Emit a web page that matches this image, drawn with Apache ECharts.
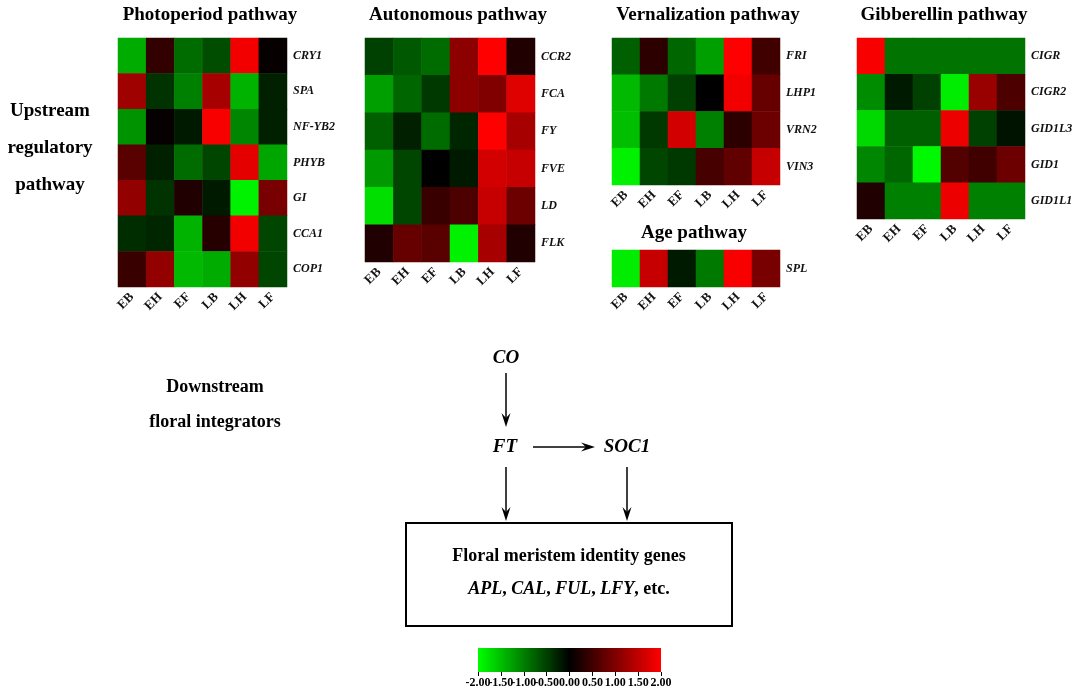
<!DOCTYPE html>
<html>
<head>
<meta charset="utf-8">
<script src="https://cdn.jsdelivr.net/npm/echarts@6/dist/echarts.min.js"></script>
<style>
  html, body { margin: 0; padding: 0; background: #fff; }
  #main { width: 1084px; height: 698px; }
</style>
</head>
<body>
<div id="main"></div>
<script>
// 发育阶段
const stages = ['EB', 'EH', 'EF', 'LB', 'LH', 'LF'];

// Photoperiod pathway
const photoGenes = ['CRY1', 'SPA', 'NF-YB2', 'PHYB', 'GI', 'CCA1', 'COP1'];
const photoValues = [
    [-1.35, 0.40, -0.85, -0.60, 1.90, 0.05],
    [1.25, -0.40, -1.00, 1.30, -1.40, -0.25],
    [-1.15, 0.05, -0.20, 1.95, -1.05, -0.25],
    [0.70, -0.25, -0.85, -0.55, 1.80, -1.30],
    [1.15, -0.40, 0.25, -0.20, -1.90, 0.95],
    [-0.35, -0.30, -1.40, 0.30, 1.90, -0.55],
    [0.45, 1.15, -1.45, -1.35, 1.15, -0.55]
];

// Autonomous pathway
const autoGenes = ['CCR2', 'FCA', 'FY', 'FVE', 'LD', 'FLK'];
const autoValues = [
    [-0.50, -0.70, -0.85, 1.10, 2.00, 0.25],
    [-1.25, -0.80, -0.45, 1.10, 1.00, 1.75],
    [-0.75, -0.25, -0.85, -0.30, 2.00, 1.30],
    [-1.20, -0.55, 0.00, -0.20, 1.65, 1.55],
    [-1.75, -0.55, 0.45, 0.60, 1.55, 0.85],
    [0.25, 0.80, 0.70, -1.90, 1.30, 0.25]
];

// Vernalization pathway
const vernGenes = ['FRI', 'LHP1', 'VRN2', 'VIN3'];
const vernValues = [
    [-0.75, 0.35, -0.80, -1.25, 2.00, 0.50],
    [-1.45, -0.95, -0.50, 0.00, 1.90, 0.80],
    [-1.50, -0.45, 1.65, -1.00, 0.35, 0.85],
    [-1.90, -0.55, -0.45, 0.55, 0.75, 1.55]
];

// Age pathway
const ageGenes = ['SPL'];
const ageValues = [
    [-1.85, 1.55, -0.20, -0.95, 1.95, 0.95]
];

// Gibberellin pathway
const gibGenes = ['CIGR', 'CIGR2', 'GID1L3', 'GID1', 'GID1L1'];
const gibValues = [
    [1.95, -0.90, -0.90, -0.90, -0.90, -0.90],
    [-1.10, -0.20, -0.50, -1.85, 1.20, 0.60],
    [-1.70, -0.75, -0.75, 1.85, -0.50, -0.15],
    [-1.05, -0.80, -1.95, 0.65, 0.50, 0.85],
    [0.25, -1.00, -1.00, 1.85, -1.00, -1.00]
];

// 色标范围和刻度标签
const scaleMin = -2;
const scaleMax = 2;
const scaleTicks = ['-2.00', '-1.50', '-1.00', '-0.50', '0.00', '0.50', '1.00', '1.50', '2.00'];

const serif = "'Liberation Serif', 'Times New Roman', serif";

// 每个热图的位置
const panels = [
    {name: 'Photoperiod pathway', genes: photoGenes, values: photoValues, left: 118, top: 38, width: 169, height: 249},
    {name: 'Autonomous pathway', genes: autoGenes, values: autoValues, left: 365, top: 38, width: 170, height: 224},
    {name: 'Vernalization pathway', genes: vernGenes, values: vernValues, left: 612, top: 38, width: 168, height: 147},
    {name: 'Age pathway', genes: ageGenes, values: ageValues, left: 612, top: 250, width: 168, height: 37},
    {name: 'Gibberellin pathway', genes: gibGenes, values: gibValues, left: 857, top: 38, width: 168, height: 181}
];

let grids = [];
let xAxes = [];
let yAxes = [];
let series = [];
for (let i = 0; i < panels.length; i++) {
    let p = panels[i];
    grids.push({left: p.left, top: p.top, width: p.width, height: p.height, containLabel: false});
    xAxes.push({
        type: 'category',
        gridIndex: i,
        data: stages,
        axisLine: {show: false},
        axisTick: {show: false},
        splitArea: {show: false},
        axisLabel: {
            rotate: 45,
            margin: 8,
            fontFamily: serif,
            fontWeight: 'bold',
            fontSize: 13,
            color: '#111'
        }
    });
    yAxes.push({
        type: 'category',
        gridIndex: i,
        data: p.genes,
        inverse: true,
        position: 'right',
        axisLine: {show: false},
        axisTick: {show: false},
        axisLabel: {
            margin: 6,
            fontFamily: serif,
            fontWeight: 'bold',
            fontStyle: 'italic',
            fontSize: 12,
            color: '#111'
        }
    });
    let data = [];
    for (let r = 0; r < p.values.length; r++) {
        for (let c = 0; c < p.values[r].length; c++) {
            data.push([c, r, p.values[r][c]]);
        }
    }
    series.push({
        name: p.name,
        type: 'heatmap',
        xAxisIndex: i,
        yAxisIndex: i,
        data: data,
        itemStyle: {borderWidth: 0},
        emphasis: {disabled: true}
    });
}

// 色标用的坐标轴
const cb = {left: 478, top: 648, width: 183, height: 24};
grids.push({left: cb.left, top: cb.top, width: cb.width, height: cb.height});
xAxes.push({
    type: 'category',
    gridIndex: panels.length,
    data: scaleTicks,
    boundaryGap: false,
    splitLine: {show: false},
    axisLine: {show: false},
    axisTick: {show: true, interval: 0, length: 4, lineStyle: {color: '#000'}},
    axisLabel: {
        interval: 0,
        margin: 5,
        fontFamily: serif,
        fontWeight: 'bold',
        fontSize: 12,
        color: '#000'
    }
});
yAxes.push({type: 'value', gridIndex: panels.length, show: false, min: 0, max: 1});

// 文字和箭头
const titleFont = 'bold 19px ' + serif;
let graphics = [];
function addText(text, x, y, font) {
    graphics.push({
        type: 'text',
        style: {text: text, x: x, y: y, font: font, fill: '#000', textAlign: 'center', textVerticalAlign: 'middle'}
    });
}
function addArrow(x1, y1, x2, y2) {
    let len = Math.sqrt((x2 - x1) * (x2 - x1) + (y2 - y1) * (y2 - y1));
    let ux = (x2 - x1) / len, uy = (y2 - y1) / len;
    let hl = 14, hw = 4.5;
    graphics.push({
        type: 'line',
        shape: {x1: x1, y1: y1, x2: x2 - ux * hl * 0.6, y2: y2 - uy * hl * 0.6},
        style: {stroke: '#000', lineWidth: 1.5}
    });
    graphics.push({
        type: 'polygon',
        shape: {
            points: [
                [x2, y2],
                [x2 - ux * hl - uy * hw, y2 - uy * hl + ux * hw],
                [x2 - ux * hl * 0.65, y2 - uy * hl * 0.65],
                [x2 - ux * hl + uy * hw, y2 - uy * hl - ux * hw]
            ]
        },
        style: {fill: '#000'}
    });
}

addText('Photoperiod pathway', 210, 15, titleFont);
addText('Autonomous pathway', 458, 15, titleFont);
addText('Vernalization pathway', 708, 15, titleFont);
addText('Age pathway', 694, 233, titleFont);
addText('Gibberellin pathway', 944, 15, titleFont);

addText('Upstream', 50, 111, titleFont);
addText('regulatory', 50, 148, titleFont);
addText('pathway', 50, 185, titleFont);

addText('Downstream', 215, 387, 'bold 18px ' + serif);
addText('floral integrators', 215, 422, 'bold 18px ' + serif);

const geneFont = 'italic bold 19px ' + serif;
addText('CO', 506, 358, geneFont);
addText('FT', 505, 447, geneFont);
addText('SOC1', 627, 447, geneFont);

addArrow(506, 373, 506, 427);
addArrow(533, 447, 595, 447);
addArrow(506, 467, 506, 521);
addArrow(627, 467, 627, 521);

graphics.push({
    type: 'rect',
    shape: {x: 406, y: 523, width: 326, height: 103},
    style: {fill: 'none', stroke: '#000', lineWidth: 2}
});
addText('Floral meristem identity genes', 569, 556, 'bold 18px ' + serif);
graphics.push({
    type: 'text',
    style: {
        text: '{i|APL}{n|, }{i|CAL}{n|, }{i|FUL}{n|, }{i|LFY}{n|, etc.}',
        x: 569, y: 589,
        textAlign: 'center',
        textVerticalAlign: 'middle',
        rich: {
            i: {font: 'italic bold 18px ' + serif, fill: '#000'},
            n: {font: 'bold 18px ' + serif, fill: '#000'}
        }
    }
});

// 色标的渐变条
graphics.push({
    type: 'rect',
    z: -1,
    shape: {x: cb.left, y: cb.top, width: cb.width, height: cb.height},
    style: {
        fill: new echarts.graphic.LinearGradient(0, 0, 1, 0, [
            {offset: 0, color: '#00ff00'},
            {offset: 0.5, color: '#000000'},
            {offset: 1, color: '#ff0000'}
        ])
    }
});

let myChart = echarts.init(document.getElementById('main'));
myChart.setOption({
    backgroundColor: '#fff',
    animation: false,
    grid: grids,
    xAxis: xAxes,
    yAxis: yAxes,
    visualMap: {
        show: false,
        type: 'continuous',
        min: scaleMin,
        max: scaleMax,
        seriesIndex: series.map((s, i) => i),
        inRange: {color: ['#00ff00', '#000000', '#ff0000']}
    },
    series: series,
    graphic: graphics
});
</script>
</body>
</html>
